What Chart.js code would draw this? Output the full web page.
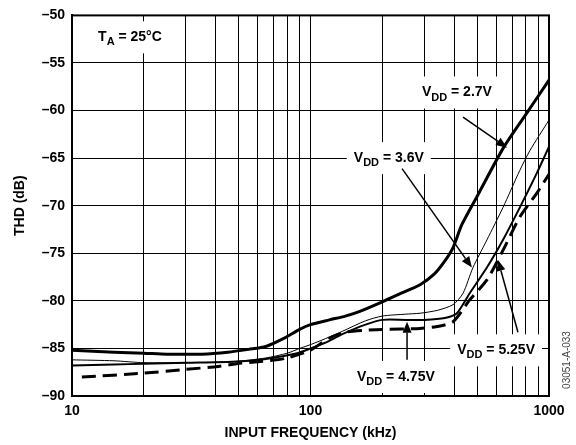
<!DOCTYPE html>
<html>
<head>
<meta charset="utf-8">
<script src="https://cdn.jsdelivr.net/npm/chart.js@4.4.0/dist/chart.umd.min.js"></script>
<style>
    html, body { margin: 0; padding: 0; background: #fff; }
</style>
</head>
<body>
<canvas id="thd" width="576" height="445"></canvas>
<script>
// Valores (frecuencia en kHz, THD en dB)
const freq27 = [10, 15, 20, 25, 35, 45, 55, 65, 78, 90, 100, 120, 140, 161, 200, 240, 288, 330, 366, 396, 431, 500, 641, 800, 1000];
const thd27 = [-85.2, -85.4, -85.5, -85.6, -85.6, -85.4, -85.1, -84.8, -83.9, -83.0, -82.5, -82.0, -81.6, -81.1, -80.1, -79.2, -78.3, -77.2, -75.8, -74.4, -72.0, -69.0, -64.0, -60.4, -56.8];

const freq36 = [10, 15, 20, 30, 47, 65, 80, 90, 100, 120, 136, 170, 200, 250, 288, 340, 396, 436, 480, 549, 641, 754, 832, 1000];
const thd36 = [-86.2, -86.3, -86.5, -86.5, -86.4, -86.0, -85.5, -85.0, -84.6, -83.8, -83.2, -82.1, -81.6, -81.4, -81.3, -81.0, -80.4, -79.2, -76.5, -73.6, -70.2, -66.3, -64.2, -61.0];

const freq525 = [10, 15, 20, 30, 47, 65, 88, 100, 120, 136, 170, 200, 250, 300, 366, 411, 465, 549, 641, 754, 888, 1000];
const thd525 = [-86.8, -86.7, -86.6, -86.5, -86.4, -86.1, -85.5, -85.0, -84.2, -83.5, -82.5, -82.0, -82.0, -82.0, -81.8, -81.3, -79.2, -76.5, -73.6, -70.2, -66.6, -63.8];

const freq475 = [11, 20, 30, 41, 49, 60, 72, 80, 90, 100, 120, 140, 170, 200, 288, 339, 396, 465, 549, 641, 754, 888, 1000];
const thd475 = [-88.0, -87.6, -87.2, -86.9, -86.6, -86.4, -86.2, -86.0, -85.6, -85.2, -83.9, -83.3, -83.1, -83.0, -82.9, -82.7, -82.2, -79.9, -77.8, -74.7, -71.2, -68.7, -66.7];

// Divisiones del eje X (escala logarítmica) y las que llevan número
const xGridValues = [10, 20, 30, 40, 50, 60, 70, 80, 90, 100, 200, 300, 400, 500, 600, 700, 800, 900, 1000];
const xLabelValues = [10, 100, 1000];

// Etiquetas de las curvas: [texto, subíndice, resto, frecuencia, dB]
const notes = [
    ['T', 'A', ' = 25°C', 17.5, -52.3],
    ['V', 'DD', ' = 2.7V', 411, -58.1],
    ['V', 'DD', ' = 3.6V', 213, -65.0],
    ['V', 'DD', ' = 5.25V', 600, -85.2],
    ['V', 'DD', ' = 4.75V', 228, -88.0]
];
// Flechas: [frecuencia inicio, dB inicio, frecuencia punta, dB punta]
const arrows = [
    [436, -60.7, 667, -63.9],
    [242, -66.1, 475, -76.5],
    [741, -83.3, 611, -75.7],
    [254, -86.2, 254, -82.2]
];

const FONT = "'Liberation Sans', Arial, Helvetica, sans-serif";

function toPoints(xs, ys) {
    return xs.map((x, i) => ({ x: x, y: ys[i] }));
}

function drawNote(ctx, n, cx, cy, withBox) {
    const big = 'bold 14px ' + FONT;
    const small = 'bold 11px ' + FONT;
    ctx.font = big;
    const w1 = ctx.measureText(n[0]).width;
    const w3 = ctx.measureText(n[2]).width;
    ctx.font = small;
    const w2 = ctx.measureText(n[1]).width;
    const total = w1 + w2 + w3;
    let x = cx - total / 2;
    if (withBox) {
        ctx.fillStyle = '#fff';
        ctx.fillRect(x - 7, cy - 16, total + 14, 32);
        return;
    }
    ctx.fillStyle = '#000';
    ctx.textBaseline = 'middle';
    ctx.textAlign = 'left';
    ctx.font = big;
    ctx.fillText(n[0], x, cy);
    x += w1;
    ctx.font = small;
    ctx.fillText(n[1], x, cy + 5);
    x += w2;
    ctx.font = big;
    ctx.fillText(n[2], x, cy);
}

const notesPlugin = {
    id: 'notes',
    beforeDatasetsDraw(chart) {
        const ctx = chart.ctx;
        const xs = chart.scales.x, ys = chart.scales.y;
        ctx.save();
        notes.forEach(n => drawNote(ctx, n, xs.getPixelForValue(n[3]), ys.getPixelForValue(n[4]), true));
        notes.forEach(n => drawNote(ctx, n, xs.getPixelForValue(n[3]), ys.getPixelForValue(n[4]), false));
        // marco del área
        const a = chart.chartArea;
        ctx.strokeStyle = '#000';
        ctx.lineWidth = 2;
        ctx.strokeRect(a.left, a.top, a.right - a.left, a.bottom - a.top);
        ctx.restore();
    },
    afterDatasetsDraw(chart) {
        const ctx = chart.ctx;
        const xs = chart.scales.x, ys = chart.scales.y;
        ctx.save();
        ctx.strokeStyle = '#000';
        ctx.fillStyle = '#000';
        ctx.lineWidth = 1.5;
        arrows.forEach(a => {
            const x0 = xs.getPixelForValue(a[0]), y0 = ys.getPixelForValue(a[1]);
            const x1 = xs.getPixelForValue(a[2]), y1 = ys.getPixelForValue(a[3]);
            const ang = Math.atan2(y1 - y0, x1 - x0);
            const hl = 11, hw = 4.5;
            const bx = x1 - hl * Math.cos(ang), by = y1 - hl * Math.sin(ang);
            ctx.beginPath();
            ctx.moveTo(x0, y0);
            ctx.lineTo(bx, by);
            ctx.stroke();
            ctx.beginPath();
            ctx.moveTo(x1, y1);
            ctx.lineTo(bx + hw * Math.sin(ang), by - hw * Math.cos(ang));
            ctx.lineTo(bx - hw * Math.sin(ang), by + hw * Math.cos(ang));
            ctx.closePath();
            ctx.fill();
        });
        // código de la figura
        ctx.translate(567, 360);
        ctx.rotate(-Math.PI / 2);
        ctx.font = '10px ' + FONT;
        ctx.fillStyle = '#444';
        ctx.textAlign = 'center';
        ctx.textBaseline = 'middle';
        ctx.fillText('03051-A-033', 0, 0);
        ctx.restore();
    }
};

const ctx = document.getElementById('thd').getContext('2d');
const chart = new Chart(ctx, {
    type: 'line',
    data: {
        datasets: [
            { label: 'VDD = 2.7V', data: toPoints(freq27, thd27), borderColor: '#000', borderWidth: 3 },
            { label: 'VDD = 3.6V', data: toPoints(freq36, thd36), borderColor: '#000', borderWidth: 1 },
            { label: 'VDD = 5.25V', data: toPoints(freq525, thd525), borderColor: '#000', borderWidth: 2 },
            { label: 'VDD = 4.75V', data: toPoints(freq475, thd475), borderColor: '#000', borderWidth: 3, borderDash: [14, 7] }
        ]
    },
    options: {
        responsive: false,
        animation: false,
        devicePixelRatio: 1,
        layout: { padding: { left: 0, top: 15, right: 27, bottom: 0 } },
        elements: {
            point: { radius: 0 },
            line: { tension: 0.25, fill: false }
        },
        plugins: {
            legend: { display: false },
            tooltip: { enabled: false }
        },
        scales: {
            x: {
                type: 'logarithmic',
                min: 10,
                max: 1000,
                afterBuildTicks: function(scale) {
                    scale.ticks = xGridValues.map(v => ({ value: v }));
                },
                afterFit: function(scale) { scale.height = 49; },
                ticks: {
                    autoSkip: false,
                    maxRotation: 0,
                    padding: 7,
                    color: '#000',
                    font: { family: FONT, size: 14, weight: 'bold' },
                    callback: function(value) {
                        return xLabelValues.includes(value) ? String(value) : '';
                    }
                },
                grid: { color: '#000', lineWidth: 1, drawTicks: false },
                border: { color: '#000', width: 2 },
                title: {
                    display: true,
                    text: 'INPUT FREQUENCY (kHz)',
                    color: '#000',
                    font: { family: FONT, size: 14, weight: 'bold' },
                    padding: { top: 0, bottom: 3 }
                }
            },
            y: {
                min: -90,
                max: -50,
                afterFit: function(scale) { scale.width = 72; },
                ticks: {
                    stepSize: 5,
                    padding: 7,
                    color: '#000',
                    font: { family: FONT, size: 14, weight: 'bold' },
                    callback: function(value) {
                        return value < 0 ? '\u2013' + Math.abs(value) : String(value);
                    }
                },
                grid: { color: '#000', lineWidth: 1, drawTicks: false },
                border: { color: '#000', width: 2 },
                title: {
                    display: true,
                    text: 'THD (dB)',
                    color: '#000',
                    font: { family: FONT, size: 14, weight: 'bold' },
                    padding: { top: 12, bottom: 0 }
                }
            }
        }
    },
    plugins: [notesPlugin]
});
</script>
</body>
</html>
